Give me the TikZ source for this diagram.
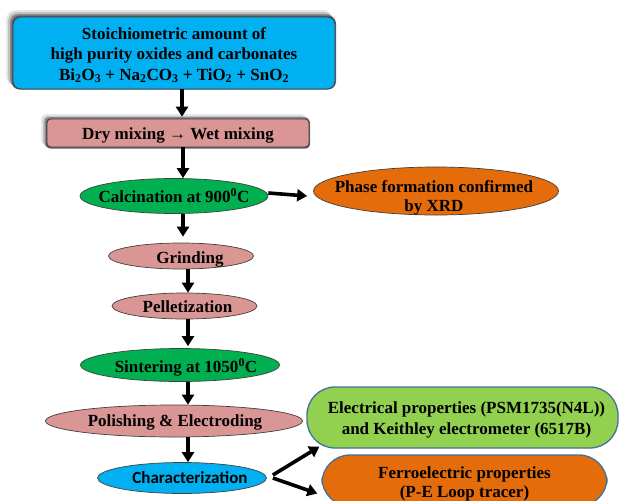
\documentclass[tikz,border=0pt]{standalone}
\usepackage{fontspec}
\setmainfont{Liberation Serif}
\newfontfamily\calib{Carlito}
\usetikzlibrary{shapes.geometric,arrows.meta}
\definecolor{cyanc}{HTML}{00B0F0}
\definecolor{pinkc}{HTML}{DA9694}
\definecolor{greenc}{HTML}{00B050}
\definecolor{orangec}{HTML}{E46C0A}
\definecolor{lgreenc}{HTML}{92D050}
\definecolor{bluebd}{HTML}{41719C}
\definecolor{shadowa}{HTML}{E6E6E6}
\definecolor{shadowb}{HTML}{C2C2C2}
\definecolor{shadowc}{HTML}{8A8A8A}
\definecolor{shadowd}{HTML}{5E5E5E}
% text placed with its baseline dy below the node centre
\newcommand\etxt[3][0pt]{\makebox[0pt]{\hspace*{#1}\smash{\raisebox{#2}{#3}}}}
\begin{document}
\begin{tikzpicture}[x=1pt,y=-1pt,
  every node/.style={font=\fontsize{17}{20}\selectfont\bfseries, text=black},
  ell/.style={ellipse, draw=black!75, line width=0.7pt, inner sep=0pt},
  boxst/.style={draw=black!75, line width=0.7pt, inner sep=0pt, align=center},
  pill/.style={draw=bluebd, line width=1.3pt, rounded corners=28pt, inner sep=0pt, align=center},
  arr/.style={line width=3.6pt, -{Triangle[width=12pt,length=10pt]}},
]
\useasboundingbox (0,0) rectangle (619,501);

% soft shadows (up-left)
\fill[shadowa, rounded corners=10pt] (6,10) rectangle (333,86);
\fill[shadowb, rounded corners=9pt] (8,12) rectangle (333,86);
\fill[shadowc, rounded corners=8pt] (10,14) rectangle (334,87);
\fill[shadowd, rounded corners=8pt] (11.5,15.5) rectangle (336,89.5);
\fill[shadowa, rounded corners=5pt] (41,114) rectangle (306,145);
\fill[shadowb, rounded corners=5pt] (43,116) rectangle (307,146);
\fill[shadowc, rounded corners=4pt] (44.5,117) rectangle (309,147.5);
\fill[shadowd, rounded corners=4pt] (46,118.5) rectangle (310,148.5);

\node[boxst, fill=cyanc, rounded corners=8pt, minimum width=322pt, minimum height=72pt,
      font=\fontsize{17}{20.5}\selectfont\bfseries] (top) at (174,53)
  {\rule{0pt}{16pt}Stoichiometric amount of\\high purity oxides and carbonates\\Bi\textsubscript{2}O\textsubscript{3} + Na\textsubscript{2}CO\textsubscript{3} + TiO\textsubscript{2} + SnO\textsubscript{2}};
\node[boxst, fill=pinkc, rounded corners=4pt, minimum width=262pt, minimum height=28pt] (dry) at (178,133)
  {\rule{0pt}{16pt}Dry mixing → Wet mixing};

\node[ell, fill=greenc, minimum width=188pt, minimum height=35pt] (calc) at (174,196)
  {\etxt{-6.6pt}{Calcination at 900\textsuperscript{0}C}};
\node[ell, fill=orangec, minimum width=245pt, minimum height=48pt] (phase) at (436,191)
  {\etxt[-4pt]{-20.5pt}{\fontsize{17}{19.5}\selectfont\begin{tabular}[b]{@{}c@{}}Phase formation confirmed\\by XRD\end{tabular}}};
\node[ell, fill=pinkc, minimum width=145pt, minimum height=26pt] (grind) at (181,256)
  {\etxt[18pt]{-7.6pt}{Grinding}};
\node[ell, fill=pinkc, minimum width=145pt, minimum height=26pt] (pellet) at (184.5,306)
  {\etxt[6pt]{-6.6pt}{Pelletization}};
\node[ell, fill=greenc, minimum width=199pt, minimum height=33pt] (sinter) at (180,365)
  {\etxt[12pt]{-7.6pt}{Sintering at 1050\textsuperscript{0}C}};
\node[ell, fill=pinkc, minimum width=257pt, minimum height=32pt] (polish) at (174,421)
  {\etxt[2pt]{-5.8pt}{Polishing \& Electroding}};
\node[ell, fill=cyanc, minimum width=169pt, minimum height=31pt] (char) at (182,478)
  {\etxt[16pt]{-5pt}{\calib\bfseries Characterization}};

\node[pill, fill=lgreenc, minimum width=311pt, minimum height=61pt] (elec) at (462.5,417.5)
  {\rule{0pt}{17pt}\hspace*{8pt}Electrical properties (PSM1735(N4L))\\[1pt]\hspace*{8pt}and Keithley electrometer (6517B)};
\node[pill, fill=orangec, minimum width=285pt, minimum height=51pt] (ferro) at (464.5,480.5)
  {\rule{0pt}{18pt}Ferroelectric properties\\[-1pt](P-E Loop tracer)};

% arrows
\draw[arr] ([xshift=8pt]top.south) -- ([xshift=8pt,yshift=2pt]top.south |- dry.north);
\draw[arr] ([xshift=5pt]dry.south) -- ([xshift=5pt]dry.south |- calc.north);
\draw[arr] ([xshift=9pt]calc.south) -- ([xshift=9pt,yshift=6pt]calc.south |- grind.north);
\draw[arr] ([xshift=7pt]grind.south) -- ([xshift=7pt]grind.south |- pellet.north);
\draw[arr] ([xshift=3.5pt]pellet.south) -- ([xshift=3.5pt,yshift=2pt]pellet.south |- sinter.north);
\draw[arr] ([xshift=8pt]sinter.south) -- ([xshift=8pt]sinter.south |- polish.north);
\draw[arr] ([xshift=14pt]polish.south) -- ([xshift=14pt]polish.south |- char.north);
\draw[arr] ([yshift=3pt]calc.east) -- ([xshift=-6pt]calc.east -| phase.west);
\draw[arr] ([xshift=6pt,yshift=3pt]char.east) -- ([xshift=13pt,yshift=2pt]elec.south west);
\draw[arr] ([xshift=6pt]char.east) -- ([xshift=-4pt,yshift=-13pt]ferro.west);
\end{tikzpicture}
\end{document}
